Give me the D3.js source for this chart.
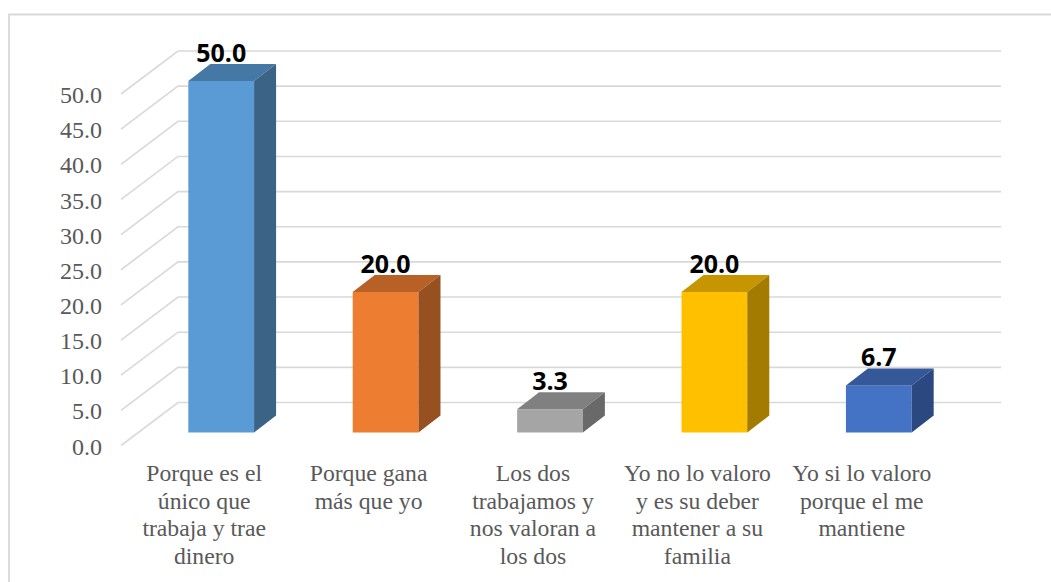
<!DOCTYPE html>
<html>
<head>
<meta charset="utf-8">
<script src="https://d3js.org/d3.v7.min.js"></script>
<style>
  html, body { margin: 0; padding: 0; background: #fff; }
  svg { display: block; }
</style>
</head>
<body>
<div id="plot"></div>
<script>
// Chart values
const categories = [
    ["Porque es el", "único que", "trabaja y trae", "dinero"],
    ["Porque gana", "más que yo"],
    ["Los dos", "trabajamos y", "nos valoran a", "los dos"],
    ["Yo no lo valoro", "y es su deber", "mantener a su", "familia"],
    ["Yo si lo valoro", "porque el me", "mantiene"]
];
const values = [50.0, 20.0, 3.3, 20.0, 6.7];
const yTicks = [0, 5, 10, 15, 20, 25, 30, 35, 40, 45, 50];
const frontColors = ["#5b9bd5", "#ed7d31", "#a5a5a5", "#ffc000", "#4472c4"];
const topColors = ["#4678a6", "#b86126", "#808080", "#c69500", "#355899"];
const sideColors = ["#3a6386", "#97501f", "#696969", "#a37b00", "#2b4880"];

const width = 1051, height = 582;

// Depth of the 3D floor and of the bars
const floorDx = 57, floorDy = 43;
const barDx = 22, barDy = 17;

const svg = d3.select("#plot")
    .append("svg")
    .attr("width", width)
    .attr("height", height);

// Chart border (runs off the picture on the right and bottom)
svg.append("path")
    .attr("d", "M9,582V14.5H1051")
    .attr("fill", "none")
    .attr("stroke", "#d9d9d9")
    .attr("stroke-width", 1.8);

// y is measured on the front plane, bars stand on it
const y = d3.scaleLinear().domain([0, 50]).range([432.5, 81]);
const x = d3.scaleBand()
    .domain(d3.range(categories.length))
    .range([139, 961])
    .paddingInner(0.6)
    .paddingOuter(0.3);

// Grid lines: a slanted part on the left wall and then the back wall
const grid = svg.append("g");
yTicks.forEach(t => {
    const back = y(t) - 30;
    const line = d3.line();
    grid.append("path")
        .attr("d", line([[121, back + floorDy], [121 + floorDx, back], [1001, back]]))
        .attr("fill", "none")
        .attr("stroke", "#d9d9d9")
        .attr("stroke-width", 1.6);
});

// Y axis labels
svg.append("g")
    .selectAll("text")
    .data(yTicks)
    .enter()
    .append("text")
    .attr("x", 102)
    .attr("y", d => y(d) - 30 + floorDy)
    .attr("dy", "0.38em")
    .attr("text-anchor", "end")
    .attr("fill", "#595959")
    .style("font-family", "'Liberation Serif'")
    .style("font-size", "24px")
    .text(d => d.toFixed(1));

// Bars
const bars = svg.append("g")
    .selectAll("g")
    .data(values)
    .enter()
    .append("g");

bars.append("rect")
    .attr("x", (d, i) => x(i))
    .attr("y", d => y(d))
    .attr("width", x.bandwidth())
    .attr("height", d => y(0) - y(d))
    .attr("fill", (d, i) => frontColors[i]);

bars.append("path")
    .attr("d", (d, i) => {
        const x1 = x(i), x2 = x(i) + x.bandwidth(), yt = y(d);
        return `M${x1},${yt}L${x1 + barDx},${yt - barDy}L${x2 + barDx},${yt - barDy}L${x2},${yt}Z`;
    })
    .attr("fill", (d, i) => topColors[i]);

bars.append("path")
    .attr("d", (d, i) => {
        const x2 = x(i) + x.bandwidth(), yt = y(d), yb = y(0);
        return `M${x2},${yt}L${x2 + barDx},${yt - barDy}L${x2 + barDx},${yb - barDy}L${x2},${yb}Z`;
    })
    .attr("fill", (d, i) => sideColors[i]);

// Value labels
bars.append("text")
    .attr("x", (d, i) => x(i) + x.bandwidth() / 2)
    .attr("y", d => y(d) - 19)
    .attr("text-anchor", "middle")
    .attr("fill", "#000")
    .style("font-family", "'Open Sans'")
    .style("font-weight", "700")
    .style("font-size", "25px")
    .text(d => d.toFixed(1));

// Category labels, one tspan for each line
const labels = svg.append("g")
    .selectAll("text")
    .data(categories)
    .enter()
    .append("text")
    .attr("text-anchor", "middle")
    .attr("fill", "#595959")
    .style("font-family", "'Liberation Serif'")
    .style("font-size", "23.7px");

labels.selectAll("tspan")
    .data((d, i) => d.map(s => ({ s, i })))
    .enter()
    .append("tspan")
    .attr("x", d => x(d.i) + x.bandwidth() / 2 - 17)
    .attr("y", (d, j) => 481 + j * 27.7)
    .text(d => d.s);
</script>
</body>
</html>
